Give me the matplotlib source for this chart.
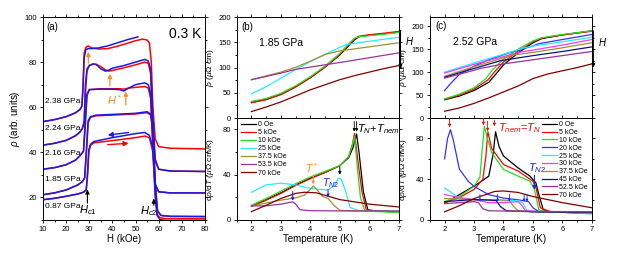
import numpy as np
import matplotlib
matplotlib.use('Agg')
import matplotlib.pyplot as plt
from matplotlib.ticker import MultipleLocator

plt.rcParams['font.family'] = ['Liberation Sans', 'DejaVu Sans']
plt.rcParams['mathtext.fontset'] = 'custom'
plt.rcParams['mathtext.rm'] = 'Liberation Sans'
plt.rcParams['mathtext.it'] = 'Liberation Sans:italic'

# ---------------- panel (a): rho(H) at 0.3 K ----------------
pressures = ['2.38 GPa', '2.24 GPa', '2.16 GPa', '1.85 GPa', '0.87 GPa']
label_y = [62.4, 50.7, 39.3, 27.8, 16.1]

H_238 = [10, 15, 20, 24, 26, 26.8, 27.3, 27.8, 28.5, 29.5, 31, 34, 38, 42, 46, 50, 53, 55, 56, 56.8, 57.5, 58.5, 60, 65, 80]
red_238 = [53.6, 54.5, 55.8, 57.5, 59, 60.5, 70, 84, 86.5, 87.2, 86.3, 85.8, 86, 87, 88.2, 89.5, 90.2, 89.8, 88.5, 80, 60, 46, 42.5, 41.8, 41.5]
Hb_238 = [10, 15, 20, 24, 26, 26.8, 27.3, 27.8, 28.5, 29.5, 31, 34, 38, 42, 46, 51]
blue_238 = [53.6, 54.5, 55.8, 57.5, 59, 60.5, 68, 82, 85.5, 86, 86, 86.3, 87.2, 88.5, 89.8, 91.2]

H_224 = [10, 15, 20, 24, 26, 27, 27.8, 28.3, 29, 30, 31.5, 33, 35, 37, 38.5, 40, 45, 50, 54, 55.5, 56.5, 57.5, 58.5, 60, 65, 80]
red_224 = [43.2, 44, 45.3, 47.3, 49, 50.5, 54, 70, 77, 78.5, 79, 79, 78, 76.5, 76, 76.3, 77.5, 78.8, 80, 79.5, 75, 50, 36, 32.5, 31.7, 31.5]
blue_224 = [43.2, 44, 45.3, 47.3, 49, 50.5, 53, 66, 76, 78.5, 79.2, 79, 77, 76, 76.5, 77.3, 78.5, 80, 81.2, 80.5, 77, 55, 37, 32.5, 31.7, 31.5]

H_216 = [10, 15, 20, 24, 26, 27.5, 28.3, 29, 30, 35, 40, 43, 45, 47, 50, 54, 55.5, 56.5, 57.5, 58.5, 60, 65, 80]
red_216 = [32.5, 33.2, 34.5, 36.5, 38.5, 40.5, 55, 66, 67.8, 68.2, 68.2, 68.2, 68, 68.5, 68.8, 69.2, 68.5, 64, 40, 25, 22.5, 22, 22]
blue_216 = [32.5, 33.2, 34.5, 36.5, 38.5, 40.5, 52, 65, 67.8, 68, 68, 67.8, 67.2, 68.5, 70, 70.8, 70, 66, 45, 26, 22.5, 22, 22]

H_185 = [10, 15, 20, 25, 27, 28, 28.8, 29.5, 30.5, 33, 40, 50, 55, 56.5, 57.5, 58.5, 59.5, 61, 65, 80]
red_185 = [21.2, 22, 23.3, 25.5, 27, 28.5, 40, 53, 55.5, 56.2, 56.5, 57, 57.6, 56.5, 50, 25, 14, 12, 11.6, 11.5]
blue_185 = [21.2, 22, 23.3, 25.5, 27, 28.7, 42, 54, 55.8, 56.5, 56.8, 57.3, 58, 57, 52, 27, 14, 12, 11.6, 11.5]

H_087 = [10, 15, 20, 25, 27.5, 28.7, 29.3, 29.8, 30.5, 32, 40, 50, 54, 56, 57.5, 58.5, 59.3, 60.5, 63, 80]
red_087 = [19, 19.6, 20.5, 21.5, 22.3, 23.2, 30, 40, 43, 44.2, 45.2, 46.5, 47.2, 46.5, 40, 20, 12.5, 11, 10.6, 10.5]
blue_087 = [19, 19.6, 20.5, 21.5, 22.3, 23.5, 32, 41, 43.5, 44.8, 46.5, 48.3, 48.8, 47.5, 42, 22, 12, 10.2, 9.8, 9.8]

# ---------------- panel (b): 1.85 GPa ----------------
b_labels = ['0 Oe', '5 kOe', '10 kOe', '25 kOe', '37.5 kOe', '53.5 kOe', '70 kOe']
b_colors = ['black', '#ff0000', '#22e022', '#22eeff', '#a09030', '#993399', '#800000']

b_rho_T = [
    [2, 2.5, 3, 3.5, 4, 4.5, 5, 5.3, 5.5, 5.65, 6, 6.5, 7],
    [2, 2.5, 3, 3.5, 4, 4.5, 5, 5.3, 5.5, 5.65, 6, 6.5, 7],
    [2, 2.5, 3, 3.5, 4, 4.5, 5, 5.3, 5.5, 5.65, 6, 6.5, 7],
    [2, 2.5, 3, 3.5, 4, 4.5, 5, 5.2, 5.5, 6, 6.5, 7],
    [2, 2.5, 3, 3.5, 4, 4.5, 5, 5.5, 6, 6.5, 7],
    [2, 2.5, 3, 3.5, 4, 5, 6, 7],
    [2, 2.5, 3, 3.5, 4, 4.5, 5, 5.5, 6, 6.5, 7],
]
b_rho = [
    [31, 37, 47, 62, 80, 101, 125, 143, 155, 161, 164, 167, 170],
    [30.5, 36.5, 46.5, 61.5, 80, 101, 126, 145, 157, 162, 165, 168, 171.5],
    [33, 39, 49, 64, 82, 103, 128, 147, 158, 161, 163, 166, 169.5],
    [48, 62, 79, 96, 112, 126, 140, 145, 148, 152, 156, 160],
    [76, 83.5, 91, 100.5, 112.5, 126, 133, 137, 141, 145, 149],
    [76, 82.5, 89, 96.5, 101, 110, 119.5, 129],
    [13, 22, 32, 44, 56, 66, 76, 84, 91, 98, 104],
]
b_drho_T = [
    [2, 2.5, 3, 3.5, 4, 4.5, 5, 5.3, 5.45, 5.57, 5.65, 5.8, 5.95, 6.2, 7],
    [2, 2.5, 3, 3.5, 4, 4.5, 5, 5.3, 5.42, 5.5, 5.6, 5.75, 5.9, 6.2, 7],
    [2, 2.5, 3, 3.5, 4, 4.5, 5, 5.3, 5.42, 5.5, 5.58, 5.7, 5.85, 7],
    [2, 2.2, 2.5, 3, 3.5, 3.8, 4, 4.3, 4.6, 4.8, 4.95, 5.05, 5.2, 5.35, 5.6, 6, 7],
    [2, 2.5, 3, 3.5, 3.8, 4.0, 4.1, 4.25, 4.4, 4.6, 4.8, 5.0, 5.5, 7],
    [2, 2.5, 3, 3.4, 3.5, 3.65, 4, 5, 7],
    [2, 2.5, 3, 3.5, 3.8, 4.2, 4.6, 5, 5.5, 6, 7],
]
b_drho = [
    [12.4, 18, 24, 31, 37, 42, 48, 55, 64, 76, 60, 25, 9, 8, 7],
    [12, 17.5, 23.5, 30.5, 36.5, 42, 48, 56, 66, 76.5, 55, 25, 9, 8, 7],
    [13, 19, 25.5, 32, 38, 43, 48, 56, 66, 74, 50, 20, 8, 6.5],
    [24.5, 27, 31, 32.5, 31, 29, 28, 27, 26.5, 30, 37, 36, 25, 11, 8.5, 8, 7.5],
    [12.4, 15, 17.5, 19.5, 22, 27, 30, 26, 21, 19, 13, 8.5, 8, 7.5],
    [12.4, 12.5, 14, 16, 14, 9, 8.2, 8, 8],
    [7.4, 13, 19, 23.5, 24.5, 24, 21, 18, 16, 14, 11.5],
]

# ---------------- panel (c): 2.52 GPa ----------------
c_labels = ['0 Oe', '5 kOe', '10 kOe', '20 kOe', '25 kOe', '30 kOe', '37.5 kOe', '45 kOe', '52.5 kOe', '70 kOe']
c_colors = ['black', '#ff0000', '#22e022', '#3333ff', '#22eeff', '#ff33ff', '#a09030', '#101080', '#993399', '#800000']

c_rho_T = [
    [2, 2.5, 3, 3.5, 3.73, 4, 4.5, 5, 5.3, 6, 7],
    [2, 2.5, 3, 3.47, 3.7, 4, 4.5, 5, 5.3, 6, 7],
    [2, 2.5, 3, 3.39, 3.6, 4, 4.5, 5, 5.3, 6, 7],
    [2, 2.2, 2.5, 3, 3.5, 4, 4.5, 5, 5.2, 6, 7],
    [2, 3, 4, 4.7, 5, 6, 7],
    [2, 3, 4, 4.6, 5, 6, 7],
    [2, 3, 4, 4.3, 5, 6, 7],
    [2, 3, 3.9, 5, 6, 7],
    [2, 3, 3.2, 4, 5, 6, 7],
    [2, 2.5, 3, 3.5, 4, 4.5, 5, 5.5, 6, 6.5, 7],
]
c_rho = [
    [40, 48, 60, 78, 95, 116, 142, 164, 173, 181, 190],
    [41, 50, 63, 83, 101, 122, 146, 166, 174, 181, 189],
    [42, 52, 66, 85, 103, 128, 150, 168, 175, 182, 190],
    [60, 75, 95, 113, 127, 138, 148, 157, 162, 171, 182],
    [100, 120, 139, 153, 157, 166, 176],
    [98, 117, 134, 144, 148, 159, 171],
    [91, 112, 131, 137, 143, 153, 164],
    [89, 108, 125, 136, 145, 155],
    [87, 104, 108, 118, 127, 136, 145],
    [15, 22, 32, 44, 57, 70, 86, 96, 103, 110, 118],
]
c_drho_T = [
    [2, 2.5, 3.1, 3.5, 3.65, 3.73, 3.85, 4, 4.5, 4.9, 5.1, 5.2, 5.35, 5.6, 7],
    [2, 2.5, 3, 3.3, 3.4, 3.47, 3.6, 4, 4.5, 5, 5.1, 5.25, 5.6, 7],
    [2, 2.5, 3, 3.2, 3.28, 3.35, 3.45, 3.6, 4, 4.5, 4.9, 5.05, 5.2, 5.5, 7],
    [2, 2.1, 2.2, 2.3, 2.5, 2.8, 3, 3.5, 4, 4.5, 4.85, 5.0, 5.2, 6, 7],
    [2, 2.5, 3, 3.5, 4, 4.5, 4.65, 4.8, 5.2, 7],
    [2, 2.5, 3, 3.5, 4, 4.5, 4.6, 4.75, 5.2, 7],
    [2, 2.5, 3, 3.5, 4, 4.2, 4.35, 4.5, 5, 7],
    [2, 2.5, 3, 3.5, 3.75, 3.9, 4.1, 5, 7],
    [2, 2.5, 3, 3.15, 3.3, 3.5, 5, 7],
    [2, 2.5, 3, 3.5, 3.7, 4, 4.5, 5, 5.5, 6, 6.5, 7],
]
c_drho = [
    [16.5, 24.8, 35, 43, 65, 86.6, 72, 62.8, 51, 43, 36.4, 25, 10, 8, 6.5],
    [17, 22, 30, 40, 62, 86.6, 70, 54.5, 48, 38, 32, 12, 8, 6.5],
    [18, 23, 33, 42, 70, 92, 80, 66, 49.6, 43, 38, 30, 10, 8, 6],
    [60, 80, 88.6, 78, 50, 38, 33, 24.8, 21.5, 19.8, 18, 12, 8, 7.5, 7],
    [31.4, 21.5, 20, 19.5, 19, 19, 17, 9, 8, 7],
    [25, 22, 20, 17, 17, 18, 15, 9, 8, 7],
    [21, 20.5, 20, 20, 19.5, 19, 13, 9, 8, 7],
    [18, 19, 20, 19.5, 19, 13, 9, 8, 7.5],
    [16, 17, 18, 17, 11, 9, 8.5, 8],
    [8, 14, 21, 26, 28, 28.5, 27, 23, 20, 17, 14.5, 12],
]

RED = '#ff0000'
BLUE = '#1a1ae6'
ORANGE = '#ff8c1a'


def style(ax, xmaj, xmin, ymaj, ymin):
    ax.xaxis.set_major_locator(MultipleLocator(xmaj))
    ax.xaxis.set_minor_locator(MultipleLocator(xmin))
    ax.yaxis.set_major_locator(MultipleLocator(ymaj))
    ax.yaxis.set_minor_locator(MultipleLocator(ymin))
    ax.tick_params(which='both', labelsize=5.5, width=0.6, pad=1.5)
    ax.tick_params(which='major', length=2.5)
    ax.tick_params(which='minor', length=1.3)
    ax.tick_params(which='both', top=True, right=True)
    for s in ax.spines.values():
        s.set_linewidth(0.7)


def arrow(ax, tip, tail, color, lw=0.7, ms=5):
    ax.annotate('', xy=tip, xytext=tail, annotation_clip=False,
                arrowprops=dict(arrowstyle='-|>', color=color, lw=lw,
                                mutation_scale=ms, shrinkA=0, shrinkB=0))


fig = plt.figure(figsize=(6.23, 2.54), dpi=100)
ax_a = fig.add_axes([0.069, 0.134, 0.260, 0.799])
ax_bt = fig.add_axes([0.380, 0.535, 0.260, 0.398])
ax_bb = fig.add_axes([0.380, 0.134, 0.260, 0.401])
ax_ct = fig.add_axes([0.690, 0.535, 0.260, 0.398])
ax_cb = fig.add_axes([0.690, 0.134, 0.260, 0.401])

# panel (a)
for H, r in [(H_238, red_238), (H_224, red_224), (H_216, red_216), (H_185, red_185), (H_087, red_087)]:
    ax_a.plot(H, r, color=RED, lw=1.1)
ax_a.plot(Hb_238, blue_238, color=BLUE, lw=1.1)
for H, b in [(H_224, blue_224), (H_216, blue_216), (H_185, blue_185), (H_087, blue_087)]:
    ax_a.plot(H, b, color=BLUE, lw=1.1)
for lab, y in zip(pressures, label_y):
    ax_a.text(10.7, y, lab, fontsize=6, va='center', ha='left')
ax_a.set_xlim(10, 80)
ax_a.set_ylim(10, 100)
style(ax_a, 10, 5, 20, 10)
ax_a.set_xlabel('H (kOe)', fontsize=7, labelpad=1)
ax_a.set_ylabel(r'$\rho$ (arb. units)', fontsize=7, labelpad=2)
ax_a.text(11.5, 95.6, '(a)', fontsize=7, va='center')
ax_a.text(78.5, 92.5, '0.3 K', fontsize=10, ha='right', va='center')
arrow(ax_a, (29.6, 84.5), (29.6, 79.5), ORANGE, lw=0.9, ms=6)
arrow(ax_a, (38.9, 74.8), (38.9, 69.5), ORANGE, lw=0.9, ms=6)
arrow(ax_a, (45.8, 67.0), (45.8, 61.0), ORANGE, lw=0.9, ms=6)
ax_a.text(37.5, 63.2, r'$H^*$', color=ORANGE, fontsize=8, va='center')
arrow(ax_a, (38.0, 47.6), (47.0, 48.8), BLUE, lw=1.0, ms=7)
arrow(ax_a, (47.0, 44.0), (38.0, 43.4), RED, lw=1.0, ms=7)
arrow(ax_a, (29.2, 23.5), (29.2, 17.5), 'black', lw=0.8, ms=6)
ax_a.text(29.5, 14.3, r'$H_{c1}$', fontsize=8, ha='center', va='center')
arrow(ax_a, (57.9, 19.5), (57.9, 16.5), 'black', lw=0.8, ms=6)
ax_a.text(55.8, 13.8, r'$H_{c2}$', fontsize=8, ha='center', va='center')

# panel (b)
for T, r, c in zip(b_rho_T, b_rho, b_colors):
    ax_bt.plot(T, r, color=c, lw=0.9)
for T, d, c, lab in zip(b_drho_T, b_drho, b_colors, b_labels):
    ax_bb.plot(T, d, color=c, lw=0.9, label=lab)
ax_bt.set_ylim(0, 200)
ax_bb.set_ylim(0, 90)
for ax in (ax_bt, ax_bb):
    ax.set_xlim(1.5, 7)
style(ax_bt, 1, 0.5, 50, 25)
style(ax_bb, 1, 0.5, 40, 20)
ax_bt.tick_params(labelbottom=False)
ax_bt.set_ylabel(r'$\rho$ ($\mu\Omega$ cm)', fontsize=6, labelpad=2)
ax_bb.set_ylabel(r'd$\rho$/d$T$ ($\mu\Omega$ cm/K)', fontsize=6, labelpad=5)
ax_bb.set_xlabel('Temperature (K)', fontsize=7, labelpad=1)
ax_bt.text(1.66, 180, '(b)', fontsize=7, va='center')
ax_bt.text(2.24, 148, '1.85 GPa', fontsize=7.5, va='center')
arrow(ax_bt, (7.06, 98), (7.06, 172), 'black', lw=0.8, ms=5)
ax_bt.text(7.2, 152, r'$H$', fontsize=7, va='center')
ax_bb.legend(loc='upper left', fontsize=5, frameon=False, handlelength=2.2,
             handletextpad=0.3, labelspacing=0.15, borderaxespad=0.2,
             bbox_to_anchor=(0.0, 1.01))
ax_bb.text(5.6, 80, r'$T_N$+$T_{nem}$', fontsize=8, va='center')
arrow(ax_bb, (5.49, 78), (5.49, 87), 'black', lw=0.6, ms=4)
arrow(ax_bb, (5.57, 78), (5.57, 87), 'black', lw=0.6, ms=4)
ax_bb.text(4.05, 46, r'$T^*$', color=ORANGE, fontsize=7.5, va='center', ha='center')
arrow(ax_bb, (4.1, 31.5), (4.1, 40), ORANGE, lw=0.7, ms=4)
ax_bb.text(4.4, 32.5, r'$T_{N2}$', color='#1a1aff', fontsize=7.5, va='center')
arrow(ax_bb, (3.4, 17), (3.4, 25), '#1a1aff', lw=0.7, ms=4)
arrow(ax_bb, (4.6, 20), (4.6, 27), '#1a1aff', lw=0.7, ms=4)
arrow(ax_bb, (5.0, 40), (5.0, 47), 'black', lw=0.7, ms=4)

# panel (c)
for T, r, c in zip(c_rho_T, c_rho, c_colors):
    ax_ct.plot(T, r, color=c, lw=0.9)
for T, d, c, lab in zip(c_drho_T, c_drho, c_colors, c_labels):
    ax_cb.plot(T, d, color=c, lw=0.9, label=lab)
ax_ct.set_ylim(0, 220)
ax_cb.set_ylim(0, 100)
for ax in (ax_ct, ax_cb):
    ax.set_xlim(1.5, 7)
style(ax_ct, 1, 0.5, 50, 25)
style(ax_cb, 1, 0.5, 40, 20)
ax_ct.tick_params(labelbottom=False)
ax_ct.set_ylabel(r'$\rho$ ($\mu\Omega$ cm)', fontsize=6, labelpad=2)
ax_cb.set_ylabel(r'd$\rho$/d$T$ ($\mu\Omega$ cm/K)', fontsize=6, labelpad=5)
ax_cb.set_xlabel('Temperature (K)', fontsize=7, labelpad=1)
ax_ct.text(1.67, 200, '(c)', fontsize=7, va='center')
ax_ct.text(2.3, 165, '2.52 GPa', fontsize=7.5, va='center')
arrow(ax_ct, (7.05, 110), (7.05, 190), 'black', lw=0.8, ms=5)
ax_ct.text(7.2, 165, r'$H$', fontsize=7, va='center')
ax_cb.legend(loc='upper right', fontsize=5, frameon=False, handlelength=2.2,
             handletextpad=0.3, labelspacing=0.12, borderaxespad=0.2,
             bbox_to_anchor=(1.0, 1.01))
for t, tip, tail in [(2.17, 91, 100), (3.32, 93, 100), (3.46, 87, 97), (3.69, 92, 98)]:
    arrow(ax_cb, (t, tip), (t, tail), RED, lw=0.6, ms=4)
ax_cb.text(3.83, 90, r'$T_{nem}$=$T_N$', color=RED, fontsize=8, va='center')
ax_cb.text(4.84, 51, r'$T_{N2}$', color='#1a1aff', fontsize=8, va='center')
arrow(ax_cb, (5.05, 30), (5.05, 44), '#1a1aff', lw=0.8, ms=5)
for t in [3.2, 3.8, 4.2, 4.7, 4.8]:
    arrow(ax_cb, (t, 18), (t, 25), '#1a1aff', lw=0.6, ms=3)

fig.savefig('out.png', dpi=100)
